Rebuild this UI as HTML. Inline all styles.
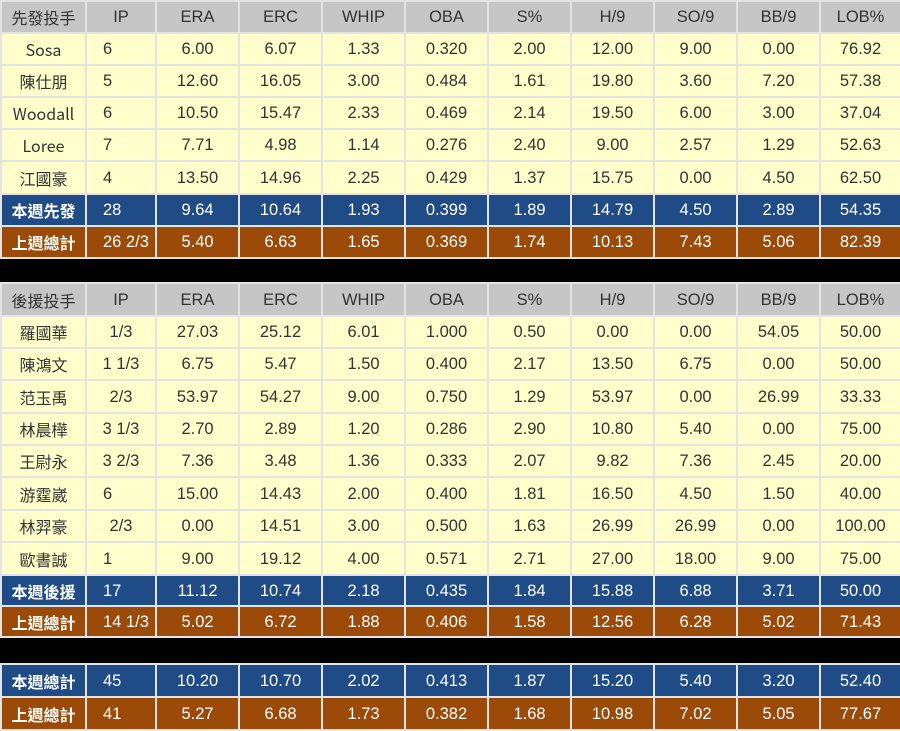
<!DOCTYPE html>
<html><head><meta charset="utf-8"><style>
body{margin:0;width:900px;height:729px;background:#000;overflow:hidden;font-family:"Liberation Sans","Noto Sans CJK TC",sans-serif;}
table{border-collapse:collapse;table-layout:fixed;width:900px;position:absolute;left:0;}
td{border:2px solid #e4e4e4;text-align:center;font-size:16.5px;line-height:18px;padding:0;color:#333;white-space:nowrap;overflow:hidden;vertical-align:middle;}
td:first-child{font-family:"Noto Sans CJK TC","Liberation Sans",sans-serif;font-size:16px;line-height:18px;}
tr.h td{background:#c6c6c6;color:#333;}
tr.d td{background:#ffffcc;}
tr.b td{background:#1f4b87;color:#fff;}
tr.o td{background:#9b4a08;color:#fff;}
tr.b td:first-child,tr.o td:first-child{font-weight:bold;}
td.l{text-align:left;padding-left:16px;}
</style></head><body>
<table style="top:0">
<colgroup><col style="width:85px"><col style="width:70px"><col style="width:83px"><col style="width:83px"><col style="width:83px"><col style="width:83px"><col style="width:83px"><col style="width:83px"><col style="width:83px"><col style="width:83px"><col style="width:81px"></colgroup>
<tr class="h" style="height:32px"><td>先發投手</td><td>IP</td><td>ERA</td><td>ERC</td><td>WHIP</td><td>OBA</td><td>S%</td><td>H/9</td><td>SO/9</td><td>BB/9</td><td>LOB%</td></tr>
<tr class="d" style="height:32px"><td>Sosa</td><td class="l">6</td><td>6.00</td><td>6.07</td><td>1.33</td><td>0.320</td><td>2.00</td><td>12.00</td><td>9.00</td><td>0.00</td><td>76.92</td></tr>
<tr class="d" style="height:32px"><td>陳仕朋</td><td class="l">5</td><td>12.60</td><td>16.05</td><td>3.00</td><td>0.484</td><td>1.61</td><td>19.80</td><td>3.60</td><td>7.20</td><td>57.38</td></tr>
<tr class="d" style="height:32px"><td>Woodall</td><td class="l">6</td><td>10.50</td><td>15.47</td><td>2.33</td><td>0.469</td><td>2.14</td><td>19.50</td><td>6.00</td><td>3.00</td><td>37.04</td></tr>
<tr class="d" style="height:32px"><td>Loree</td><td class="l">7</td><td>7.71</td><td>4.98</td><td>1.14</td><td>0.276</td><td>2.40</td><td>9.00</td><td>2.57</td><td>1.29</td><td>52.63</td></tr>
<tr class="d" style="height:33px"><td>江國豪</td><td class="l">4</td><td>13.50</td><td>14.96</td><td>2.25</td><td>0.429</td><td>1.37</td><td>15.75</td><td>0.00</td><td>4.50</td><td>62.50</td></tr>
<tr class="b" style="height:32px"><td>本週先發</td><td class="l">28</td><td>9.64</td><td>10.64</td><td>1.93</td><td>0.399</td><td>1.89</td><td>14.79</td><td>4.50</td><td>2.89</td><td>54.35</td></tr>
<tr class="o" style="height:32px"><td>上週總計</td><td class="l">26 2/3</td><td>5.40</td><td>6.63</td><td>1.65</td><td>0.369</td><td>1.74</td><td>10.13</td><td>7.43</td><td>5.06</td><td>82.39</td></tr>
</table>
<table style="top:282px">
<colgroup><col style="width:85px"><col style="width:70px"><col style="width:83px"><col style="width:83px"><col style="width:83px"><col style="width:83px"><col style="width:83px"><col style="width:83px"><col style="width:83px"><col style="width:83px"><col style="width:81px"></colgroup>
<tr class="h" style="height:33px"><td>後援投手</td><td>IP</td><td>ERA</td><td>ERC</td><td>WHIP</td><td>OBA</td><td>S%</td><td>H/9</td><td>SO/9</td><td>BB/9</td><td>LOB%</td></tr>
<tr class="d" style="height:32px"><td>羅國華</td><td>1/3</td><td>27.03</td><td>25.12</td><td>6.01</td><td>1.000</td><td>0.50</td><td>0.00</td><td>0.00</td><td>54.05</td><td>50.00</td></tr>
<tr class="d" style="height:32px"><td>陳鴻文</td><td>1 1/3</td><td>6.75</td><td>5.47</td><td>1.50</td><td>0.400</td><td>2.17</td><td>13.50</td><td>6.75</td><td>0.00</td><td>50.00</td></tr>
<tr class="d" style="height:33px"><td>范玉禹</td><td>2/3</td><td>53.97</td><td>54.27</td><td>9.00</td><td>0.750</td><td>1.29</td><td>53.97</td><td>0.00</td><td>26.99</td><td>33.33</td></tr>
<tr class="d" style="height:32px"><td>林晨樺</td><td>3 1/3</td><td>2.70</td><td>2.89</td><td>1.20</td><td>0.286</td><td>2.90</td><td>10.80</td><td>5.40</td><td>0.00</td><td>75.00</td></tr>
<tr class="d" style="height:32px"><td>王尉永</td><td>3 2/3</td><td>7.36</td><td>3.48</td><td>1.36</td><td>0.333</td><td>2.07</td><td>9.82</td><td>7.36</td><td>2.45</td><td>20.00</td></tr>
<tr class="d" style="height:33px"><td>游霆崴</td><td class="l">6</td><td>15.00</td><td>14.43</td><td>2.00</td><td>0.400</td><td>1.81</td><td>16.50</td><td>4.50</td><td>1.50</td><td>40.00</td></tr>
<tr class="d" style="height:32px"><td>林羿豪</td><td>2/3</td><td>0.00</td><td>14.51</td><td>3.00</td><td>0.500</td><td>1.63</td><td>26.99</td><td>26.99</td><td>0.00</td><td>100.00</td></tr>
<tr class="d" style="height:33px"><td>歐書誠</td><td class="l">1</td><td>9.00</td><td>19.12</td><td>4.00</td><td>0.571</td><td>2.71</td><td>27.00</td><td>18.00</td><td>9.00</td><td>75.00</td></tr>
<tr class="b" style="height:31px"><td>本週後援</td><td class="l">17</td><td>11.12</td><td>10.74</td><td>2.18</td><td>0.435</td><td>1.84</td><td>15.88</td><td>6.88</td><td>3.71</td><td>50.00</td></tr>
<tr class="o" style="height:31px"><td>上週總計</td><td class="l">14 1/3</td><td>5.02</td><td>6.72</td><td>1.88</td><td>0.406</td><td>1.58</td><td>12.56</td><td>6.28</td><td>5.02</td><td>71.43</td></tr>
</table>
<table style="top:663px">
<colgroup><col style="width:85px"><col style="width:70px"><col style="width:83px"><col style="width:83px"><col style="width:83px"><col style="width:83px"><col style="width:83px"><col style="width:83px"><col style="width:83px"><col style="width:83px"><col style="width:81px"></colgroup>
<tr class="b" style="height:33px"><td>本週總計</td><td class="l">45</td><td>10.20</td><td>10.70</td><td>2.02</td><td>0.413</td><td>1.87</td><td>15.20</td><td>5.40</td><td>3.20</td><td>52.40</td></tr>
<tr class="o" style="height:33px"><td>上週總計</td><td class="l">41</td><td>5.27</td><td>6.68</td><td>1.73</td><td>0.382</td><td>1.68</td><td>10.98</td><td>7.02</td><td>5.05</td><td>77.67</td></tr>
</table>
</body></html>
